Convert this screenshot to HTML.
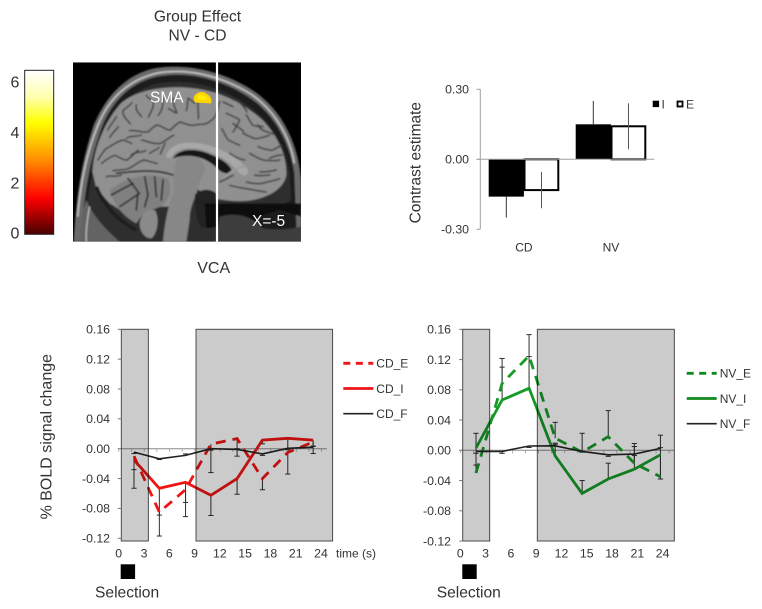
<!DOCTYPE html>
<html>
<head>
<meta charset="utf-8">
<title>Group Effect NV - CD</title>
<style>
html,body{margin:0;padding:0;background:#fff;width:762px;height:609px;overflow:hidden}
svg{display:block}
text{font-family:"Liberation Sans",Arial,sans-serif;fill:#333}
.band{mix-blend-mode:multiply}
</style>
</head>
<body>
<svg id="page" xmlns="http://www.w3.org/2000/svg" width="762" height="609" viewBox="0 0 762 609">
<defs>
<linearGradient id="heat" x1="0" y1="0" x2="0" y2="1">
<stop offset="0" stop-color="#ffffff"/><stop offset=".16" stop-color="#ffffb0"/><stop offset=".32" stop-color="#ffff00"/><stop offset=".55" stop-color="#ff8c00"/><stop offset=".78" stop-color="#ff0000"/><stop offset="1" stop-color="#480000"/>
</linearGradient>
<filter id="soft" x="-5%" y="-5%" width="110%" height="110%"><feGaussianBlur stdDeviation="2"/></filter>
<filter id="softer" x="-20%" y="-20%" width="140%" height="140%"><feGaussianBlur stdDeviation="1"/></filter>
<clipPath id="brainClip"><rect x="0" y="7" width="684" height="538"/></clipPath>
</defs>
<rect width="762" height="609" fill="#fff"/>

<text x="197.5" y="21.7" font-size="15.6" text-anchor="middle">Group Effect</text>
<text x="197.5" y="40.7" font-size="15.6" text-anchor="middle">NV - CD</text>

<g>
<rect x="24.7" y="70.3" width="29" height="164" fill="url(#heat)" stroke="#222" stroke-width="1"/>
<text x="15" y="87.3" font-size="16" text-anchor="middle">6</text>
<text x="15" y="138" font-size="16" text-anchor="middle">4</text>
<text x="15" y="188.3" font-size="16" text-anchor="middle">2</text>
<text x="15" y="238.3" font-size="16" text-anchor="middle">0</text>
</g>

<g transform="translate(73,60) scale(.33333)" clip-path="url(#brainClip)">
<rect x="0" y="7" width="684" height="538" fill="#000"/>
<g filter="url(#soft)">
<path d="M2 545C8 430 20 320 62 195C100 105 160 45 240 26C330 8 440 30 530 85C620 140 675 240 684 360L686 545Z" fill="#6a6a6a"/>
<path d="M24 545C30 430 44 320 84 208C118 118 178 66 252 50C340 33 438 55 522 108C602 158 650 245 664 340L672 545Z" fill="#1a1a1a"/>
<path d="M14 470C22 370 40 280 75 195C110 110 170 60 250 40C340 23 440 46 530 100C600 146 650 225 664 310" fill="none" stroke="#c4c4c4" stroke-width="5"/>
<path d="M34 545C38 440 52 340 90 228C124 138 184 86 258 70C340 56 428 76 506 124C586 174 636 252 650 340L654 420L600 450L450 440L430 545Z" fill="#2e2e2e"/>
<path d="M58 335C62 270 92 186 146 128C190 92 260 80 330 82C420 86 500 118 572 183C617 233 642 290 640 345C632 385 592 410 540 420C490 428 440 420 405 410L370 385L330 420L300 440L250 440L190 480L110 430L70 385Z" fill="#909090"/>
<path d="M110 390C160 350 230 335 285 355C300 390 290 430 250 445C225 450 205 465 190 490C150 470 120 430 110 390Z" fill="#808080"/>
<path d="M70 380C90 430 130 480 190 510" fill="none" stroke="#1e1e1e" stroke-width="10"/>
<path d="M200 490C205 460 225 445 245 450C260 470 255 520 235 535C215 535 200 515 200 490Z" fill="#8a8a8a"/>
<path d="M320 290C350 275 385 290 395 320C400 345 375 360 375 385C365 420 350 440 350 480L340 545L270 545C275 490 285 440 300 400C305 360 295 320 320 290Z" fill="#878787"/>
<path d="M300 295C315 268 360 262 410 282C440 295 470 310 478 335C462 348 440 335 425 318C395 290 345 278 300 295Z" fill="#141414"/>
<path d="M280 292C282 255 330 242 380 250C440 260 490 290 520 322C535 340 515 355 500 340C475 305 430 280 380 267C340 260 305 267 295 295Z" fill="#a8a8a8"/>
<path d="M365 405C385 385 410 385 430 400L430 455L405 500L390 505C365 490 370 440 365 405Z" fill="#242424"/>
<path d="M395 430L684 430L684 470L620 450L560 470L540 510L500 500L440 500L400 505Z" fill="#0e0e0e"/>
<path d="M440 470C490 455 540 470 570 505C600 510 640 510 684 500L684 545L430 545Z" fill="#3c3c3c"/>
<path d="M20 545C24 490 28 450 40 420C60 470 100 510 140 545Z" fill="#636363"/>
<path d="M50 440C42 480 38 510 40 545" fill="none" stroke="#bdbdbd" stroke-width="4"/>
<g fill="none" stroke="#3c3c3c" stroke-width="4.5" stroke-linecap="round" stroke-linejoin="round">
<path d="M172 192C160 175 148 170 150 152C158 142 170 140 176 128M206 170C196 158 186 150 190 134M226 172C236 150 244 140 240 124C232 118 224 114 220 106M256 166C268 150 272 132 270 114M286 146C298 150 308 162 312 158C304 142 300 130 300 114M340 152C344 138 342 126 346 114C352 120 360 126 366 130M376 176C378 160 372 140 376 124C386 118 394 110 400 104"/>
<path d="M170 212C190 208 206 220 226 215C236 205 244 198 252 195C266 196 278 212 292 210C302 202 310 190 322 186C336 190 348 198 362 196C376 190 388 196 402 190C412 184 420 178 426 170C432 156 436 140 440 124"/>
<path d="M110 232C118 220 128 210 136 200M100 266C116 256 132 244 150 240C160 242 168 248 176 250M86 310C98 300 112 290 126 286C138 290 150 302 162 300C174 292 184 280 196 270M120 332C136 330 150 330 166 326C182 318 196 306 212 300C226 302 238 308 252 310M206 240C224 244 242 254 262 250C276 244 288 232 302 226M262 282C266 270 272 260 276 250"/>
<path d="M130 170C122 185 112 195 104 210M160 235C175 225 190 232 205 225M75 300C84 285 90 275 100 265M100 350C115 345 130 352 145 345M175 285C190 272 205 280 218 272M230 280C240 270 250 272 258 262"/>
<path d="M460 160C474 166 490 172 500 180C494 194 488 204 480 216M450 126C460 130 472 136 480 140M520 165C528 176 532 188 540 196C550 200 560 198 570 200M510 220C522 226 534 232 546 236C560 236 576 230 590 226M555 260C570 266 586 272 600 270C610 264 618 260 626 256M446 206C454 218 458 232 466 240C478 246 490 252 500 256M530 280C544 288 556 296 570 300C586 302 604 304 620 300M560 336C576 336 594 334 610 330M520 366C534 370 550 372 566 370C584 366 602 362 620 356M470 376C486 380 504 384 520 386C540 390 560 394 580 396M440 366C454 360 468 352 480 346"/>
<path d="M490 120C505 130 515 142 522 155M555 195C565 215 585 215 600 222M470 280C485 290 500 298 515 300M590 295C600 290 615 285 628 285M545 345C560 350 575 345 590 345M480 190C490 200 505 205 512 215"/>
</g>
<g fill="none" stroke="#2a2a2a" stroke-width="5" stroke-linecap="round">
<path d="M115 405L180 370M140 440L200 400M165 355L195 395L190 450M215 350L225 405L215 440M245 350L250 410M270 360L265 420"/>
<path d="M130 340C180 335 240 325 300 345"/>
</g>
<path d="M450 355C470 340 485 320 520 320" fill="none" stroke="#9c9c9c" stroke-width="6"/>
</g>
<path d="M363 110C370 94 392 92 402 102C414 108 418 122 414 130L368 128C362 124 362 116 363 110Z" fill="#ffd400" filter="url(#softer)"/>
<path d="M374 108C384 100 394 104 404 118L376 120Z" fill="#fff000" filter="url(#softer)"/>
</g>
<line x1="217" y1="62" x2="217" y2="241.5" stroke="#fff" stroke-width="2.2"/>
<text x="150" y="102.7" font-size="15.5" style="fill:#fff">SMA</text>
<text x="252" y="226" font-size="15.5" style="fill:#fff">X=-5</text>
<text x="213.7" y="273" font-size="16" text-anchor="middle">VCA</text>

<g id="barChart"></g>
<g id="cdChart"></g>
<g id="nvChart"></g>

<text transform="translate(51.5,436.7) rotate(-90)" font-size="16" text-anchor="middle">% BOLD signal change</text>
<text x="336" y="557.3" font-size="12">time (s)</text>
<rect x="120.7" y="564.3" width="14.4" height="14.7" fill="#000"/>
<text x="95" y="597.3" font-size="15.6">Selection</text>
<rect x="462.3" y="564.3" width="14.4" height="14.7" fill="#000"/>
<text x="436.7" y="597.3" font-size="15.6">Selection</text>
</svg>

<script>
// ---- bar chart data ----
const barGroups = ['CD', 'NV'];
const barTicks = [0.30, 0.00, -0.30];
const barI = [-0.16, 0.15];
const barE = [-0.132, 0.1415];
const barIErrLow = [0.09, 0];
const barIErrHigh = [0, 0.10];
const barEErrLow = [0.078, 0.098];
const barEErrHigh = [0.078, 0.098];

// ---- time course data ----
const times = [1.8, 4.8, 7.9, 10.9, 14, 17, 20, 23];
const xTickLabels = [0, 3, 6, 9, 12, 15, 18, 21, 24];
const yTickLabels = [0.16, 0.12, 0.08, 0.04, 0.00, -0.04, -0.08, -0.12];
const cdBands = [[0.3, 3.5], [9.14, 25.3]];
const nvBands = [[0.27, 3.37], [8.85, 24.6]];

const cdE = [-0.010, -0.085, -0.055, 0.006, 0.0135, -0.040, -0.005, 0.009];
const cdI = [-0.015, -0.053, -0.045, -0.0625, -0.040, 0.0115, 0.014, 0.0115];
const cdF = [-0.0045, -0.0135, -0.009, 0.000, -0.001, -0.007, 0.0005, 0.002];
const cdEErr = [-0.043, -0.032, -0.036, -0.038, -0.0135, -0.015, -0.029, -0.006];
const cdIErr = [-0.013, -0.036, -0.027, -0.027, -0.021, -0.005, -0.014, -0.008];
const cdFErr = [-0.002, -0.001, 0.002, -0.002, -0.009, -0.002, -0.002, -0.0085];

const nvE = [-0.030, 0.0885, 0.125, 0.016, -0.0025, 0.018, -0.017, -0.035];
const nvI = [0.003, 0.0665, 0.082, -0.0075, -0.057, -0.038, -0.025, -0.006];
const nvF = [-0.0015, -0.0015, 0.0057, 0.006, -0.0015, -0.006, -0.005, 0.0025];
const nvEErr = [0.0525, 0.033, 0.028, 0.021, 0.025, 0.0345, 0.026, 0.055];
const nvIErr = [-0.0225, 0.0435, 0.042, 0.017, 0.017, 0.021, 0.030, -0.032];
const nvFErr = [-0.0025, -0.0025, -0.002, 0.002, -0.001, -0.002, -0.002, 0.001];

const NS = 'http://www.w3.org/2000/svg';
function make(tag, attrs, parent) {
  const node = document.createElementNS(NS, tag);
  for (const k in attrs) node.setAttribute(k, attrs[k]);
  parent.appendChild(node);
  return node;
}

// ---------- bar chart ----------
(function () {
  const root = document.getElementById('barChart');
  const y = v => 159.3 - v * 233.3;
  const groupX = i => 488.7 + i * 87;
  const barW = 35.2;
  const axisGray = '#a0a0a0';

  const yAxis = make('line', { x1: 480.3, x2: 480.3, y1: y(0.30), y2: y(-0.30), stroke: axisGray }, root);
  
  

  barTicks.forEach(t => {
    const tick = make('line', { x1: 476.5, x2: 480.3, y1: y(t), y2: y(t), stroke: axisGray }, root);
    
    
    const label = make('text', { x: 469, y: y(t) + 4.2, 'font-size': 12.3, 'text-anchor': 'end' }, root);
    label.textContent = t.toFixed(2);
    
    
  });

  barGroups.forEach((g, i) => {
    const x0 = groupX(i);
    const top1 = Math.min(y(0), y(barI[i]));
    const barOne = make('rect', { x: x0, y: top1, width: barW, height: Math.abs(y(barI[i]) - y(0)), fill: '#000' }, root);
    
    

    const top2 = Math.min(y(0), y(barE[i]));
    const barTwo = make('rect', { x: x0 + barW + 0.6, y: top2, width: barW - 1.4, height: Math.abs(y(barE[i]) - y(0)), fill: '#fff', stroke: '#000', 'stroke-width': 2 }, root);
    
    

    const xI = x0 + barW / 2;
    const errI = make('line', { x1: xI, x2: xI, y1: y(barI[i] - barIErrLow[i]), y2: y(barI[i] + barIErrHigh[i]), stroke: '#333', 'stroke-width': 1 }, root);
    
    

    const xE = x0 + barW * 1.5;
    const errE = make('line', { x1: xE, x2: xE, y1: y(barE[i] - barEErrLow[i]), y2: y(barE[i] + barEErrHigh[i]), stroke: '#555', 'stroke-width': 1 }, root);
    
    

    const label = make('text', { x: x0 + barW, y: 251.7, 'font-size': 12, 'text-anchor': 'middle' }, root);
    label.textContent = g;
    
    
  });

  const xAxis = make('line', { x1: 476.5, x2: 654.3, y1: y(0), y2: y(0), stroke: axisGray }, root);
  
  

  const title = make('text', { transform: 'translate(420.5,162.7) rotate(-90)', 'font-size': 15.5, 'text-anchor': 'middle' }, root);
  title.textContent = 'Contrast estimate';
  
  

  const keyI = make('rect', { x: 652.7, y: 100.7, width: 6.4, height: 6.4, fill: '#000' }, root);
  
  
  const keyIText = make('text', { x: 661.5, y: 108.3, 'font-size': 12 }, root);
  keyIText.textContent = 'I';
  
  
  const keyE = make('rect', { x: 677.5, y: 101.5, width: 5, height: 5, fill: '#fff', stroke: '#000', 'stroke-width': 1.8 }, root);
  
  
  const keyEText = make('text', { x: 686, y: 108.3, 'font-size': 12 }, root);
  keyEText.textContent = 'E';
  
  
})();

// ---------- time course charts ----------
function drawCourse(cfg) {
  const root = document.getElementById(cfg.id);
  const y = v => cfg.zeroY - v * cfg.yScale;
  const x = t => cfg.pointX0 + (t - times[0]) * cfg.xScale;
  const labelX = v => cfg.labelX0 + v * 8.43;

  // zero line
  const zero = make('line', { x1: cfg.axisStart, x2: cfg.axisEnd, y1: y(0), y2: y(0), stroke: '#8c8c8c', 'stroke-width': 1 }, root);
  
  
  for (let t = 0; t <= 25; t += 1.5) {
    const minor = make('line', { x1: x(t), x2: x(t), y1: y(0), y2: y(0) + 3, stroke: '#999', 'stroke-width': 0.8 }, root);
    
    
  }

  // error bars
  cfg.series.forEach(s => {
    s.values.forEach((v, i) => {
      const px = x(times[i]);
      const end = v + s.err[i];
      const bar = make('line', { x1: px, x2: px, y1: y(v), y2: y(end), stroke: '#2e2e2e', 'stroke-width': 1 }, root);
      
      
      const cap = make('line', { x1: px - 2.6, x2: px + 2.6, y1: y(end), y2: y(end), stroke: '#2e2e2e', 'stroke-width': 1 }, root);
      
      
    });
  });

  // series lines
  cfg.series.forEach(s => {
    const d = s.values.map((v, i) => x(times[i]).toFixed(1) + ',' + y(v).toFixed(1)).join(' ');
    const line = make('polyline', { points: d, fill: 'none', stroke: s.color, 'stroke-width': s.width, 'stroke-dasharray': s.dash || 'none', 'stroke-linejoin': 'miter' }, root);
    
    
  });

  // shaded gray bands laid over the lines
  cfg.bands.forEach(b => {
    const band = make('rect', { class: 'band', x: x(b[0]), y: 329.3, width: x(b[1]) - x(b[0]), height: 211.7, fill: '#cbcbcb', stroke: '#4a4a4a', 'stroke-width': 1 }, root);
    
    
  });

  // axes
  yTickLabels.forEach(t => {
    const tick = make('line', { x1: cfg.bandLeft - 3.5, x2: cfg.bandLeft, y1: y(t), y2: y(t), stroke: '#777', 'stroke-width': 1 }, root);
    
    
    const label = make('text', { x: cfg.yLabelX, y: y(t) + 4.3, 'font-size': 12.3, 'text-anchor': 'end' }, root);
    label.textContent = t.toFixed(2);
    
    
  });
  xTickLabels.forEach(v => {
    const label = make('text', { x: labelX(v), y: 557.3, 'font-size': 12.3, 'text-anchor': 'middle' }, root);
    label.textContent = v;
    
    
  });

  // legend
  cfg.series.forEach((s, i) => {
    const ly = cfg.legendY + i * 25.2;
    const key = make('line', { x1: cfg.legendX, x2: cfg.legendX + 30, y1: ly, y2: ly, stroke: s.keyColor, 'stroke-width': s.width, 'stroke-dasharray': s.dash ? '7 5.5' : 'none' }, root);
    
    
    const text = make('text', { x: cfg.legendX + 33, y: ly + 4.4, 'font-size': 12 }, root);
    text.textContent = s.name;
    
    
  });
}

drawCourse({
  id: 'cdChart', zeroY: 448.7, yScale: 746.3, pointX0: 134, xScale: 8.45, labelX0: 118.7,
  axisStart: 120.7, axisEnd: 326.7, bandLeft: 121.3, yLabelX: 110, legendX: 343.3, legendY: 363.3,
  bands: cdBands,
  series: [
    { name: 'CD_E', values: cdE, err: cdEErr, color: '#f01414', keyColor: '#f01414', width: 2.8, dash: '10 7' },
    { name: 'CD_I', values: cdI, err: cdIErr, color: '#f01414', keyColor: '#f01414', width: 2.8 },
    { name: 'CD_F', values: cdF, err: cdFErr, color: '#222', keyColor: '#222', width: 1.6 }
  ]
});

drawCourse({
  id: 'nvChart', zeroY: 450.3, yScale: 756, pointX0: 476, xScale: 8.7, labelX0: 460.3,
  axisStart: 460.7, axisEnd: 674.3, bandLeft: 462.7, yLabelX: 451, legendX: 686.7, legendY: 373.3,
  bands: nvBands,
  series: [
    { name: 'NV_E', values: nvE, err: nvEErr, color: '#159a26', keyColor: '#0f8a1e', width: 2.8, dash: '10 7' },
    { name: 'NV_I', values: nvI, err: nvIErr, color: '#159a26', keyColor: '#0f8a1e', width: 2.8 },
    { name: 'NV_F', values: nvF, err: nvFErr, color: '#222', keyColor: '#222', width: 1.6 }
  ]
});
</script>
</body>
</html>
